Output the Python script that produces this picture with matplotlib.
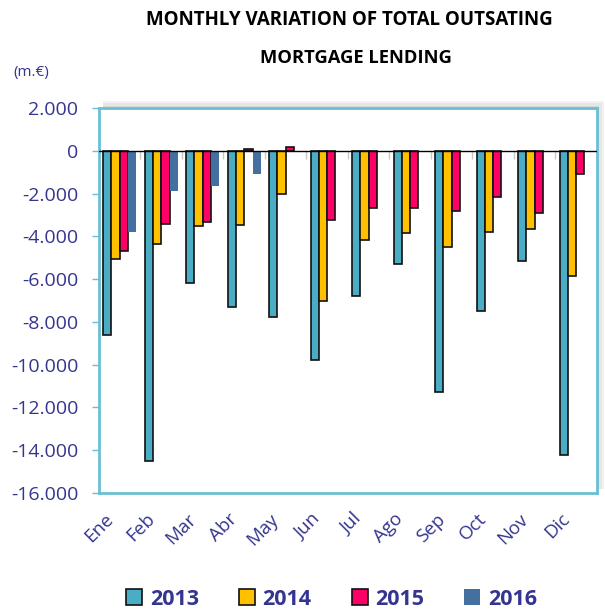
import numpy as np
import matplotlib
matplotlib.use('Agg')
import matplotlib.pyplot as plt
import matplotlib.transforms as mtransforms
from matplotlib.patches import Rectangle
from matplotlib.ticker import FuncFormatter

months = ['Ene', 'Feb', 'Mar', 'Abr', 'May', 'Jun', 'Jul', 'Ago', 'Sep', 'Oct', 'Nov', 'Dic']
years = ['2013', '2014', '2015', '2016']

v2013 = [-8600, -14500, -6160, -7280, -7780, -9780, -6800, -5290, -11290, -7500, -5150, -14220]
v2014 = [-5050, -4340, -3510, -3490, -2030, -7020, -4160, -3820, -4490, -3790, -3650, -5860]
v2015 = [-4680, -3420, -3320, 80, 190, -3210, -2650, -2650, -2810, -2140, -2900, -1060]
v2016 = [-3780, -1860, -1640, -1080, 0, 0, 0, 0, 0, 0, 0, 0]

series = [v2013, v2014, v2015, v2016]
colors = ['#4BACC6', '#FFC000', '#FF0066', '#44709F']
edges = ['#111111', '#111111', '#111111', 'none']
label_blue = '#34358F'
frame_blue = '#6BBFD4'

plt.rcParams['font.family'] = ['Open Sans', 'DejaVu Sans']

fig = plt.figure(figsize=(6.05, 6.12), dpi=100)
rect = [0.1636, 0.1944, 0.823, 0.629]

# soft shadow behind the plot frame (top and right)
for k, a in enumerate([0.10, 0.10, 0.12]):
    d = (3 - k) * 2.5
    fig.patches.append(Rectangle((rect[0] + 4 / 605, rect[1] + 4 / 612),
                                 rect[2] - 4 / 605 + d / 605, rect[3] - 4 / 612 + d / 612,
                                 transform=fig.transFigure, color='#808080',
                                 alpha=a, lw=0, zorder=0))

ax = fig.add_axes(rect)
ax.set_zorder(2)
ax.set_facecolor('white')

x = np.arange(len(months))
w = 0.2
for i, (vals, c, ec) in enumerate(zip(series, colors, edges)):
    ax.bar(x - 0.3 + i * w, vals, width=w, color=c, edgecolor=ec,
           linewidth=1.2, label=years[i], zorder=3)

ax.axhline(0, color='black', linewidth=1, zorder=4)
ax.vlines(x[1:] - 0.5, -400, 0, color='#C8C8C8', linewidth=1, zorder=2)
ax.set_xlim(-0.5, len(months) - 0.5)
ax.set_ylim(-16000, 2000)
ax.set_yticks(np.arange(-16000, 2001, 2000))
ax.yaxis.set_major_formatter(FuncFormatter(lambda v, p: f'{int(v):,}'.replace(',', '.')))
ax.set_xticks(x)
ax.set_xticklabels(months, rotation=45, ha='right', rotation_mode='anchor')
ax.tick_params(axis='y', colors=frame_blue, labelcolor=label_blue, labelsize=14,
               length=5, width=1, pad=10)
ax.tick_params(axis='x', labelcolor=label_blue, labelsize=13.5, length=0, pad=8)
offset = mtransforms.ScaledTranslation(-16 / 100, -6 / 100, fig.dpi_scale_trans)
for lab in ax.get_xticklabels():
    lab.set_transform(lab.get_transform() + offset)
for s in ax.spines.values():
    s.set_color(frame_blue)
    s.set_linewidth(2)

fig.text(0.577, 0.968, 'MONTHLY VARIATION OF TOTAL OUTSATING', ha='center', va='center',
         fontsize=13.5, fontweight='bold')
fig.text(0.588, 0.905, 'MORTGAGE LENDING', ha='center', va='center',
         fontsize=13.2, fontweight='bold')
fig.text(0.022, 0.882, '(m.€)', ha='left', va='center', fontsize=11, color=label_blue)

leg = fig.legend(loc='lower center', bbox_to_anchor=(0.548, -0.028), ncol=4, frameon=False,
                 prop={'weight': 'bold', 'size': 15.5}, handlelength=0.75, handleheight=0.75,
                 columnspacing=1.85, handletextpad=0.35)
for t in leg.get_texts():
    t.set_color(label_blue)

fig.savefig('out.png', dpi=100)
